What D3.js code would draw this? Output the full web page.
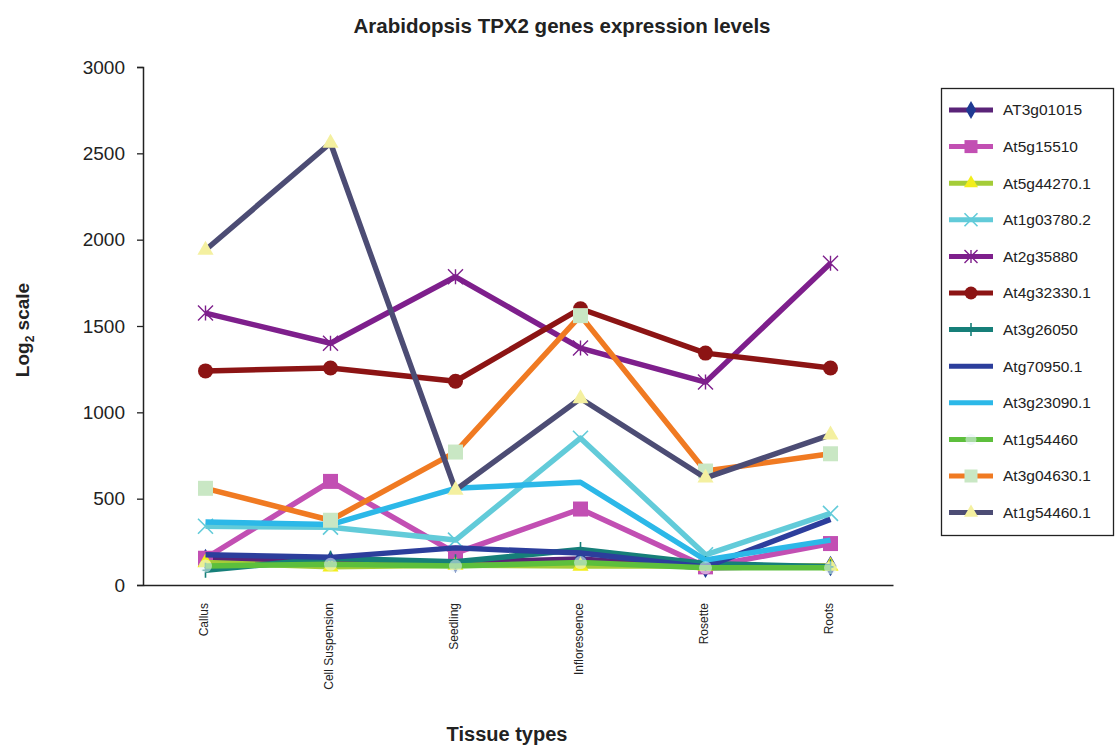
<!DOCTYPE html>
<html>
<head>
<meta charset="utf-8">
<script src="https://cdn.jsdelivr.net/npm/d3@7"></script>
<style>
  html, body { margin: 0; padding: 0; background: #fff; }
  svg { display: block; font-family: "Liberation Sans", Arial, sans-serif; }
</style>
</head>
<body>
<svg id="chart" width="1115" height="746"></svg>
<script>
// Tissue types on the x axis
const tissues = ["Callus", "Cell Suspension", "Seedling", "Infloresoence", "Rosette", "Roots"];
const yTicks = [0, 500, 1000, 1500, 2000, 2500, 3000];

// Expression values per gene, one per tissue
const AT3g01015   = [150, 140, 130, 150, 100, 110];
const At5g15510   = [155, 600, 185, 440, 105, 240];
const At5g44270_1 = [130, 105, 115, 110, 110, 110];
const At1g03780_2 = [340, 335, 260, 850, 175, 415];
const At2g35880   = [1575, 1400, 1785, 1372, 1175, 1864];
const At4g32330_1 = [1240, 1257, 1180, 1600, 1343, 1257];
const At3g26050   = [85, 155, 135, 205, 125, 105];
const Atg70950_1  = [175, 160, 215, 185, 105, 380];
const At3g23090_1 = [365, 350, 560, 595, 145, 260];
const At1g54460   = [110, 120, 110, 130, 100, 100];
const At3g04630_1 = [560, 375, 770, 1560, 660, 760];
const At1g54460_1 = [1940, 2560, 550, 1080, 620, 870];

const series = [
  { name: "AT3g01015",   values: AT3g01015,   line: "#5a2378", marker: "diamond",  mfill: "#1f3a93" },
  { name: "At5g15510",   values: At5g15510,   line: "#c24fb3", marker: "square",   mfill: "#c24fb3" },
  { name: "At5g44270.1", values: At5g44270_1, line: "#a4cc38", marker: "triangle", mfill: "#f2ee1c" },
  { name: "At1g03780.2", values: At1g03780_2, line: "#62cbd9", marker: "cross",    mfill: "#62cbd9" },
  { name: "At2g35880",   values: At2g35880,   line: "#7e1f8c", marker: "asterisk", mfill: "#7e1f8c" },
  { name: "At4g32330.1", values: At4g32330_1, line: "#8c1414", marker: "circle",   mfill: "#8c1414" },
  { name: "At3g26050",   values: At3g26050,   line: "#167f79", marker: "plus",     mfill: "#167f79" },
  { name: "Atg70950.1",  values: Atg70950_1,  line: "#2c3e9c", marker: "none",     mfill: "none" },
  { name: "At3g23090.1", values: At3g23090_1, line: "#2cb8e8", marker: "none",     mfill: "none" },
  { name: "At1g54460",   values: At1g54460,   line: "#5dbf3c", marker: "faint",    mfill: "#e6f3f7" },
  { name: "At3g04630.1", values: At3g04630_1, line: "#f07a22", marker: "square",   mfill: "#c9e7c4" },
  { name: "At1g54460.1", values: At1g54460_1, line: "#4c4c74", marker: "triangle", mfill: "#f4f0a0" }
];

const svg = d3.select("#chart");
const x = d3.scalePoint().domain(tissues).range([143, 893]).padding(0.5);
const y = d3.scaleLinear().domain([0, 3000]).range([585, 67]);

// Title
svg.append("text").attr("x", 562).attr("y", 33).attr("text-anchor", "middle")
  .attr("font-size", 20.5).attr("font-weight", "bold").attr("fill", "#222")
  .text("Arabidopsis TPX2 genes expression levels");

// Y axis
const yAxis = svg.append("g").attr("transform", "translate(143,0)")
  .call(d3.axisLeft(y).tickValues(yTicks).tickSize(6).tickPadding(12).tickFormat(d3.format("d")));
yAxis.select(".domain").attr("stroke", "#222").attr("stroke-width", 1.5);
yAxis.selectAll(".tick line").attr("stroke", "#222").attr("stroke-width", 1.3);
yAxis.selectAll(".tick text").attr("font-size", 19).attr("fill", "#222")
  .attr("font-family", "Liberation Sans, Arial, sans-serif");

// X axis
const xAxis = svg.append("g").attr("transform", "translate(0,585)")
  .call(d3.axisBottom(x).tickSize(0).tickPadding(0));
xAxis.select(".domain").attr("stroke", "#222").attr("stroke-width", 1.5);
xAxis.selectAll(".tick text")
  .attr("font-size", 12).attr("fill", "#222")
  .attr("font-family", "Liberation Sans, Arial, sans-serif")
  .attr("text-anchor", "end")
  .attr("transform", "translate(-2,18) rotate(-90)")
  .attr("dy", "0.35em").attr("x", 0).attr("y", 0);

// Axis titles
svg.append("text").attr("x", 507).attr("y", 741).attr("text-anchor", "middle")
  .attr("font-size", 20).attr("font-weight", "bold").attr("fill", "#222")
  .text("Tissue types");
const yl = svg.append("text").attr("transform", "translate(29,330) rotate(-90)")
  .attr("text-anchor", "middle").attr("font-size", 19).attr("font-weight", "bold").attr("fill", "#222");
yl.append("tspan").text("Log");
yl.append("tspan").attr("font-size", 12).attr("dy", 5).text("2");
yl.append("tspan").attr("dy", -5).text(" scale");

// Marker drawing
function drawMarker(g, type, color, fill, size) {
  const s = size;
  switch (type) {
    case "diamond":
      g.append("path").attr("d", d3.symbol(d3.symbolDiamond, s * s * 0.55)()).attr("fill", fill);
      break;
    case "square":
      g.append("rect").attr("x", -s / 2).attr("y", -s / 2).attr("width", s).attr("height", s).attr("fill", fill);
      break;
    case "triangle":
      g.append("path").attr("d", d3.symbol(d3.symbolTriangle, s * s * 0.5)()).attr("fill", fill);
      break;
    case "circle":
      g.append("circle").attr("r", s / 2).attr("fill", fill);
      break;
    case "faint":
      g.append("circle").attr("r", s / 2 - 1).attr("fill", fill).attr("opacity", 0.55);
      break;
    case "cross": {
      const h = s / 2;
      g.append("path").attr("d", `M${-h},${-h}L${h},${h}M${-h},${h}L${h},${-h}`)
        .attr("stroke", fill).attr("stroke-width", 1.6);
      break;
    }
    case "asterisk": {
      const h = s / 2;
      g.append("path").attr("d", `M${-h},${-h}L${h},${h}M${-h},${h}L${h},${-h}M0,${-h}L0,${h}`)
        .attr("stroke", fill).attr("stroke-width", 1.4);
      break;
    }
    case "plus": {
      const h = s / 2;
      g.append("path").attr("d", `M0,${-h}L0,${h}M${-h * 0.4},0L${h * 0.4},0`)
        .attr("stroke", fill).attr("stroke-width", 1.6);
      break;
    }
  }
}

// Series lines and markers
const line = d3.line().x((d, i) => x(tissues[i])).y(d => y(d));
const plot = svg.append("g");
series.forEach(s => {
  const g = plot.append("g");
  g.append("path").datum(s.values).attr("d", line)
    .attr("fill", "none").attr("stroke", s.line).attr("stroke-width", 5.5)
    .attr("stroke-linejoin", "round");
  if (s.marker !== "none") {
    s.values.forEach((v, i) => {
      const m = g.append("g").attr("transform", `translate(${x(tissues[i])},${y(v)})`);
      drawMarker(m, s.marker, s.line, s.mfill, 15);
    });
  }
});

// Legend
const lg = svg.append("g").attr("transform", "translate(941,88)");
lg.append("rect").attr("x", 0.5).attr("y", 0.5).attr("width", 172).attr("height", 447)
  .attr("fill", "#fff").attr("stroke", "#222").attr("stroke-width", 1.3);
series.forEach((s, i) => {
  const cy = 22 + i * 36.6;
  const e = lg.append("g").attr("transform", `translate(0,${cy})`);
  e.append("line").attr("x1", 8).attr("x2", 52).attr("y1", 0).attr("y2", 0)
    .attr("stroke", s.line).attr("stroke-width", 5);
  if (s.marker !== "none") {
    const m = e.append("g").attr("transform", "translate(30,0)");
    drawMarker(m, s.marker, s.line, s.mfill, 13);
  }
  e.append("text").attr("x", 62).attr("y", 0).attr("dy", "0.35em")
    .attr("font-size", 15.5).attr("fill", "#222").text(s.name);
});
</script>
</body>
</html>
